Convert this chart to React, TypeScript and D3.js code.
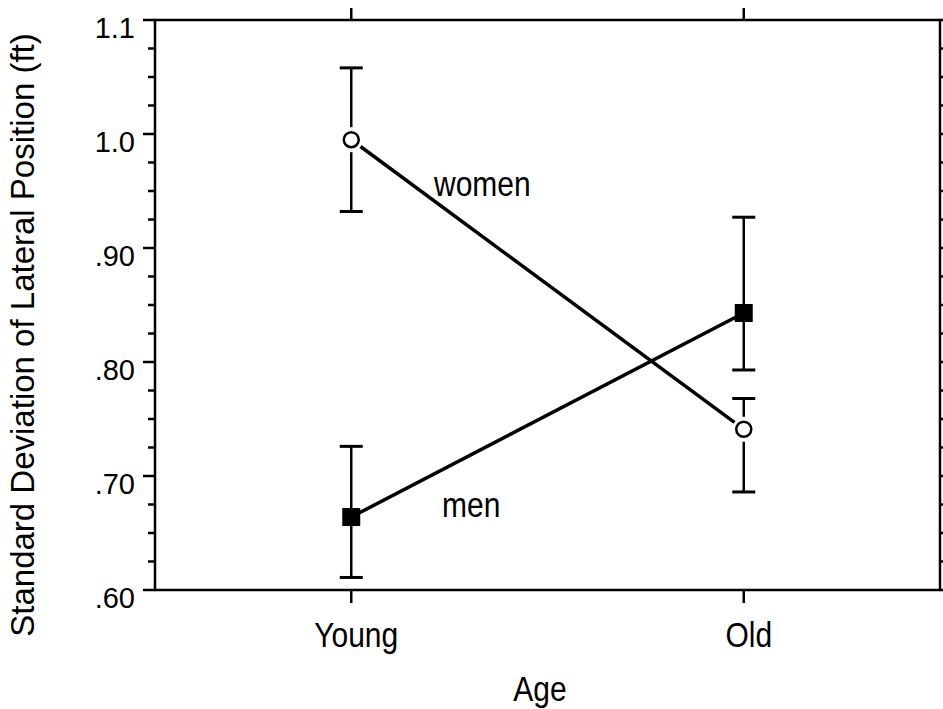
import React, { useEffect, useRef } from "react";
import * as d3 from "d3";

const ages = ["Young", "Old"];
const yTicks = [0.6, 0.7, 0.8, 0.9, 1.0, 1.1];
const yTickLabels = [".60", ".70", ".80", ".90", "1.0", "1.1"];

// mean, upper and lower error bar ends per age group
const womenMean = [0.995, 0.741];
const womenHigh = [1.058, 0.768];
const womenLow = [0.932, 0.686];
const menMean = [0.664, 0.843];
const menHigh = [0.726, 0.927];
const menLow = [0.611, 0.793];

export default function App() {
  const ref = useRef<SVGSVGElement>(null);

  useEffect(() => {
    const W = 943;
    const H = 709;
    const m = { left: 155, right: 3, top: 20, bottom: 119 };
    const svg = d3.select(ref.current);
    svg.selectAll("*").remove();

    const x = d3
      .scalePoint()
      .domain(ages)
      .range([m.left, W - m.right])
      .padding(0.5);
    const y = d3
      .scaleLinear()
      .domain([0.6, 1.1])
      .range([H - m.bottom, m.top]);

    const font = "'Liberation Sans', Arial, Helvetica, sans-serif";
    const g = svg.append("g");

    // scanned type is a bit taller than it is wide
    const label = (tx: number, ty: number, txt: string, anchor = "start") =>
      g
        .append("text")
        .attr("transform", `translate(${tx},${ty}) scale(1,1.15)`)
        .attr("text-anchor", anchor)
        .attr("font-family", font)
        .attr("font-size", 30)
        .text(txt);

    // frame
    g.append("rect")
      .attr("x", m.left)
      .attr("y", m.top)
      .attr("width", W - m.right - m.left)
      .attr("height", H - m.bottom - m.top)
      .attr("fill", "none")
      .attr("stroke", "#000")
      .attr("stroke-width", 2.5);

    // y ticks, left and right, minor every .025
    const minor = d3.range(0, 21).map((i) => 0.6 + i * 0.025);
    minor.forEach((v, i) => {
      const major = i % 4 === 0;
      const len = major ? 12 : 7;
      g.append("line")
        .attr("x1", m.left - len)
        .attr("x2", m.left)
        .attr("y1", y(v))
        .attr("y2", y(v))
        .attr("stroke", "#000")
        .attr("stroke-width", 2.5);
      g.append("line")
        .attr("x1", W - m.right)
        .attr("x2", W - m.right + len)
        .attr("y1", y(v))
        .attr("y2", y(v))
        .attr("stroke", "#000")
        .attr("stroke-width", 2.5);
    });

    g.selectAll(".ylab")
      .data(yTicks)
      .enter()
      .append("text")
      .attr("x", m.left - 20)
      .attr("y", (d) => y(d) + 18)
      .attr("text-anchor", "end")
      .attr("font-family", font)
      .attr("font-size", 29)
      .text((d, i) => yTickLabels[i]);

    // x ticks top and bottom
    ages.forEach((a) => {
      const cx = x(a)!;
      g.append("line")
        .attr("x1", cx)
        .attr("x2", cx)
        .attr("y1", m.top - 12)
        .attr("y2", m.top)
        .attr("stroke", "#000")
        .attr("stroke-width", 2.5);
      g.append("line")
        .attr("x1", cx)
        .attr("x2", cx)
        .attr("y1", H - m.bottom)
        .attr("y2", H - m.bottom + 13)
        .attr("stroke", "#000")
        .attr("stroke-width", 2.5);
      label(cx + 5, 647, a, "middle");
    });

    label(540, 701, "Age", "middle");

    g.append("text")
      .attr("transform", `translate(34, 335) rotate(-90)`)
      .attr("text-anchor", "middle")
      .attr("font-family", font)
      .attr("font-size", 33)
      .text("Standard Deviation of Lateral Position (ft)");

    const capW = 23;
    const errBars = (mean: number[], hi: number[], lo: number[], gap: number) => {
      ages.forEach((a, i) => {
        const cx = x(a)!;
        [hi[i], lo[i]].forEach((end) => {
          const dir = end > mean[i] ? -1 : 1;
          g.append("line")
            .attr("x1", cx)
            .attr("x2", cx)
            .attr("y1", y(mean[i]) + dir * gap)
            .attr("y2", y(end))
            .attr("stroke", "#000")
            .attr("stroke-width", 2.5);
          g.append("line")
            .attr("x1", cx - capW / 2)
            .attr("x2", cx + capW / 2)
            .attr("y1", y(end))
            .attr("y2", y(end))
            .attr("stroke", "#000")
            .attr("stroke-width", 3);
        });
      });
    };

    const r = 7.5;
    errBars(womenMean, womenHigh, womenLow, r + 5);
    errBars(menMean, menHigh, menLow, 0);

    // connecting lines, trimmed at the markers
    const seg = (vals: number[], trim: number) => {
      const x0 = x(ages[0])!;
      const x1 = x(ages[1])!;
      const y0 = y(vals[0]);
      const y1 = y(vals[1]);
      const len = Math.hypot(x1 - x0, y1 - y0);
      const ux = (x1 - x0) / len;
      const uy = (y1 - y0) / len;
      g.append("line")
        .attr("x1", x0 + ux * trim)
        .attr("y1", y0 + uy * trim)
        .attr("x2", x1 - ux * trim)
        .attr("y2", y1 - uy * trim)
        .attr("stroke", "#000")
        .attr("stroke-width", 3.5);
    };
    seg(womenMean, r + 4);
    seg(menMean, 0);

    g.selectAll(".women")
      .data(womenMean)
      .enter()
      .append("circle")
      .attr("cx", (d, i) => x(ages[i])!)
      .attr("cy", (d) => y(d))
      .attr("r", r)
      .attr("fill", "#fff")
      .attr("stroke", "#000")
      .attr("stroke-width", 2.5);

    const sq = 18;
    g.selectAll(".men")
      .data(menMean)
      .enter()
      .append("rect")
      .attr("x", (d, i) => x(ages[i])! - sq / 2)
      .attr("y", (d) => y(d) - sq / 2)
      .attr("width", sq)
      .attr("height", sq)
      .attr("fill", "#000");

    label(434, 196, "women");
    label(442, 517, "men");
  }, []);

  return (
    <svg
      ref={ref}
      width={943}
      height={709}
      style={{ position: "absolute", left: 0, top: 0, background: "#fff" }}
    />
  );
}
